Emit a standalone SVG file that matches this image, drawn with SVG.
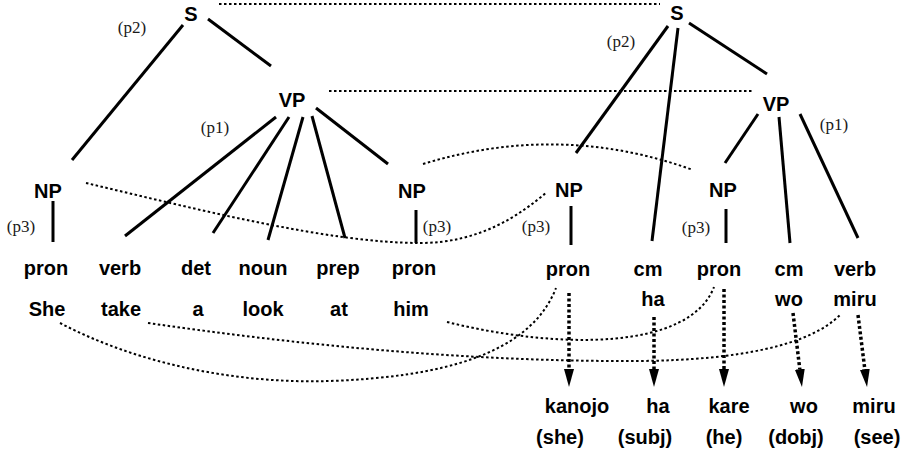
<svg xmlns="http://www.w3.org/2000/svg" width="906" height="462" viewBox="0 0 906 462">
  <style>
    .cat { font-family: "Liberation Sans", Arial, sans-serif; font-weight: bold; font-size: 20px; fill: #000; text-anchor: middle; }
    .tag { font-family: "Liberation Serif", "Times New Roman", serif; font-size: 17px; fill: #1a1a1a; text-anchor: middle; }
    .edge { stroke: #000; stroke-width: 3; fill: none; }
    .link { stroke: #000; stroke-width: 2; stroke-dasharray: 2.5 2.5; fill: none; }
    .xfer { stroke: #000; stroke-width: 3.5; stroke-dasharray: 3 2.5; fill: none; }
  </style>
  <defs>
    <marker id="head" viewBox="0 0 18 10" refX="0" refY="5" markerWidth="18" markerHeight="10" markerUnits="userSpaceOnUse" orient="auto">
      <path d="M0,0 L18,5 L0,10 z" fill="#000"/>
    </marker>
  </defs>
  <rect width="906" height="462" fill="#fff"/>

  <!-- connectors: tree edges, correspondence links, transfer arrows -->
  <g id="connectors">
    <!-- English tree -->
    <line class="edge" x1="183" y1="25" x2="72" y2="160"/>
    <line class="edge" x1="208" y1="19" x2="271" y2="66"/>
    <line class="edge" x1="276" y1="117" x2="125" y2="236"/>
    <line class="edge" x1="289" y1="117" x2="213" y2="233"/>
    <line class="edge" x1="303" y1="117" x2="268" y2="240"/>
    <line class="edge" x1="312" y1="116" x2="345" y2="238"/>
    <line class="edge" x1="316" y1="108" x2="388" y2="164"/>
    <line class="edge" x1="53" y1="201" x2="53" y2="242"/>
    <line class="edge" x1="416" y1="210" x2="416" y2="243"/>
    <!-- Japanese tree -->
    <line class="edge" x1="668" y1="26" x2="576" y2="153"/>
    <line class="edge" x1="678" y1="28" x2="652" y2="241"/>
    <line class="edge" x1="689" y1="23" x2="767" y2="74"/>
    <line class="edge" x1="758" y1="114" x2="725" y2="163"/>
    <line class="edge" x1="779" y1="117" x2="790" y2="243"/>
    <line class="edge" x1="800" y1="114" x2="858" y2="238"/>
    <line class="edge" x1="571" y1="206" x2="571" y2="245"/>
    <line class="edge" x1="726" y1="209" x2="726" y2="243"/>
    <!-- node correspondences -->
    <line class="link" x1="219" y1="4" x2="660" y2="4"/>
    <line class="link" x1="329" y1="91" x2="753" y2="91"/>
    <path class="link" d="M423,164 Q560,122 693,170"/>
    <path class="link" d="M86,183 C200,210 330,243 420,243 C480,243 520,215 547,192"/>
    <!-- word correspondences -->
    <path class="link" d="M60,323 C140,365 240,384 330,381 C440,377 530,355 556,288"/>
    <path class="link" d="M148,323 C300,345 470,362 640,361 C740,360 810,345 840,315"/>
    <path class="link" d="M447,322 C560,350 690,350 714,287"/>
    <!-- transfer arrows -->
    <line class="xfer" x1="569" y1="293" x2="569" y2="369" marker-end="url(#head)"/>
    <line class="xfer" x1="654" y1="317" x2="654" y2="369" marker-end="url(#head)"/>
    <line class="xfer" x1="724" y1="289" x2="724" y2="369" marker-end="url(#head)"/>
    <line class="xfer" x1="793" y1="313" x2="799.8" y2="369.1" marker-end="url(#head)"/>
    <line class="xfer" x1="858" y1="315" x2="864.8" y2="369.1" marker-end="url(#head)"/>
  </g>

  <!-- English tree nodes -->
  <g id="en-S"><text class="cat" x="191" y="21">S</text><text class="tag" x="132" y="33">(p2)</text></g>
  <g id="en-VP"><text class="cat" x="292" y="107">VP</text><text class="tag" x="215" y="133">(p1)</text></g>
  <g id="en-NP-subj"><text class="cat" x="48" y="198">NP</text><text class="tag" x="21" y="232">(p3)</text></g>
  <g id="en-NP-obj"><text class="cat" x="412" y="198">NP</text><text class="tag" x="437" y="232">(p3)</text></g>
  <g id="en-pron1"><text class="cat" x="46" y="275">pron</text><text class="cat" x="47" y="316">She</text></g>
  <g id="en-verb"><text class="cat" x="120" y="275">verb</text><text class="cat" x="121" y="316">take</text></g>
  <g id="en-det"><text class="cat" x="196" y="275">det</text><text class="cat" x="198" y="316">a</text></g>
  <g id="en-noun"><text class="cat" x="263" y="275">noun</text><text class="cat" x="263" y="316">look</text></g>
  <g id="en-prep"><text class="cat" x="338" y="275">prep</text><text class="cat" x="339" y="316">at</text></g>
  <g id="en-pron2"><text class="cat" x="414" y="275">pron</text><text class="cat" x="411" y="316">him</text></g>

  <!-- Japanese tree nodes -->
  <g id="ja-S"><text class="cat" x="677" y="20">S</text><text class="tag" x="621" y="47">(p2)</text></g>
  <g id="ja-VP"><text class="cat" x="776" y="111">VP</text><text class="tag" x="834" y="130">(p1)</text></g>
  <g id="ja-NP-subj"><text class="cat" x="569" y="197">NP</text><text class="tag" x="536" y="232">(p3)</text></g>
  <g id="ja-NP-obj"><text class="cat" x="723" y="197">NP</text><text class="tag" x="696" y="233">(p3)</text></g>
  <g id="ja-pron1"><text class="cat" x="568" y="276">pron</text></g>
  <g id="ja-cm1"><text class="cat" x="648" y="276">cm</text><text class="cat" x="653" y="306">ha</text></g>
  <g id="ja-pron2"><text class="cat" x="719" y="276">pron</text></g>
  <g id="ja-cm2"><text class="cat" x="789" y="276">cm</text><text class="cat" x="789" y="306">wo</text></g>
  <g id="ja-verb"><text class="cat" x="855" y="276">verb</text><text class="cat" x="855" y="306">miru</text></g>

  <!-- generated Japanese words with glosses -->
  <g id="out-kanojo"><text class="cat" x="577" y="413">kanojo</text><text class="cat" x="560" y="444">(she)</text></g>
  <g id="out-ha"><text class="cat" x="658" y="413">ha</text><text class="cat" x="645" y="444">(subj)</text></g>
  <g id="out-kare"><text class="cat" x="729" y="413">kare</text><text class="cat" x="724" y="444">(he)</text></g>
  <g id="out-wo"><text class="cat" x="804" y="413">wo</text><text class="cat" x="796" y="444">(dobj)</text></g>
  <g id="out-miru"><text class="cat" x="874" y="413">miru</text><text class="cat" x="877" y="444">(see)</text></g>
</svg>
